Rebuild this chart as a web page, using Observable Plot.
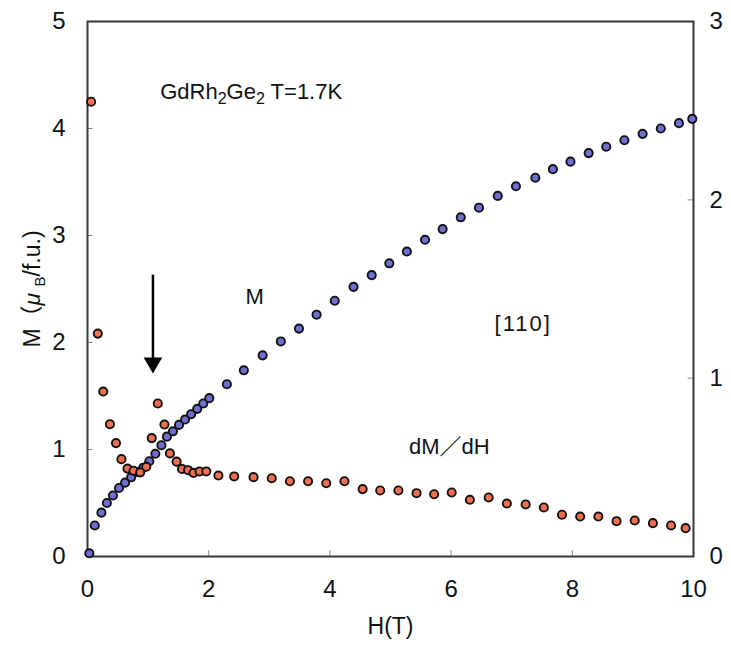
<!DOCTYPE html>
<html>
<head>
<meta charset="utf-8">
<script src="https://cdn.jsdelivr.net/npm/d3@7"></script>
<script src="https://cdn.jsdelivr.net/npm/@observablehq/plot@0.6"></script>
<style>
  html, body { margin: 0; padding: 0; background: #fff; }
  svg { display: block; }
</style>
</head>
<body>
<div id="chart"></div>
<script>
// Magnetization M (left axis, μB/f.u.)
const H_M = [0.03,0.12,0.23,0.32,0.42,0.52,0.62,0.72,0.82,0.92,1.02,1.12,1.22,1.31,1.41,1.51,1.61,1.71,1.81,1.91,2.01,2.30,2.58,2.89,3.19,3.49,3.78,4.08,4.39,4.69,4.98,5.27,5.57,5.86,6.16,6.46,6.77,7.07,7.39,7.68,7.97,8.27,8.56,8.86,9.16,9.46,9.76,9.98];
const M_vals = [0.03,0.29,0.41,0.50,0.57,0.64,0.69,0.74,0.79,0.83,0.89,0.96,1.04,1.12,1.17,1.23,1.28,1.33,1.38,1.43,1.48,1.61,1.74,1.88,2.01,2.13,2.26,2.39,2.52,2.63,2.74,2.85,2.96,3.06,3.17,3.26,3.37,3.46,3.54,3.62,3.69,3.77,3.83,3.89,3.95,4.00,4.05,4.09];
// dM/dH (right axis)
const H_D = [0.06,0.17,0.26,0.37,0.47,0.56,0.66,0.76,0.87,0.97,1.06,1.16,1.27,1.36,1.47,1.56,1.66,1.75,1.85,1.96,2.16,2.42,2.74,3.04,3.34,3.64,3.94,4.24,4.54,4.83,5.13,5.43,5.72,6.01,6.31,6.62,6.92,7.23,7.53,7.83,8.13,8.43,8.73,9.03,9.33,9.63,9.87];
const D_vals = [2.55,1.25,0.925,0.742,0.636,0.546,0.493,0.481,0.472,0.503,0.664,0.858,0.740,0.578,0.532,0.491,0.484,0.469,0.477,0.477,0.454,0.449,0.445,0.439,0.422,0.422,0.411,0.422,0.378,0.370,0.370,0.355,0.349,0.359,0.318,0.331,0.297,0.292,0.275,0.234,0.224,0.224,0.198,0.202,0.187,0.174,0.159];

const xTicks = [0, 2, 4, 6, 8, 10];
const yTicks = [0, 1, 2, 3, 4, 5];
const y2Ticks = [0, 1, 2, 3];
const Y2MAX = 3, YMAX = 5;
const k = YMAX / Y2MAX; // right-axis mapping onto left scale

const mData = H_M.map((h, i) => ({h, v: M_vals[i]}));
const dData = H_D.map((h, i) => ({h, v: D_vals[i]}));

// annotations
const arrowH = 1.08, arrowTop = 2.63, arrowTip = 1.81;
const titleNote = [{h: 1.2, v: 4.34, t: "GdRh2Ge2 T=1.7K"}];
const notes = [
  {h: 2.76, v: 2.43, t: "M"},
  {h: 7.19, v: 2.17, t: "[110]"},
  {h: 5.97, v: 1.02, t: "dM／dH"}
];

const FONT = "'Liberation Sans', Arial, 'Noto Sans CJK JP', sans-serif";
const frameColor = "#3b3539";

const chart = Plot.plot({
  width: 731,
  height: 646,
  marginLeft: 87,
  marginRight: 38,
  marginTop: 21,
  marginBottom: 90,
  style: {fontFamily: FONT, background: "#fff", color: "#111"},
  x: {domain: [0, 10]},
  y: {domain: [0, YMAX]},
  marks: [
    // inward ticks
    Plot.ruleX(xTicks.slice(1, -1), {y1: 0, y2: 0.055, stroke: "#888", strokeWidth: 1}),
    Plot.ruleY(yTicks.slice(1, -1), {x1: 0, x2: 0.09, stroke: "#888", strokeWidth: 1}),
    Plot.ruleY(y2Ticks.slice(1, -1).map(d => d * k), {x1: 9.91, x2: 10, stroke: "#888", strokeWidth: 1}),
    Plot.frame({stroke: frameColor, strokeWidth: 2}),
    Plot.axisX({ticks: xTicks, tickFormat: d => String(d), tickSize: 0, tickPadding: 23, fontSize: 24, label: null}),
    Plot.axisY({ticks: yTicks, tickFormat: d => String(d), tickSize: 0, tickPadding: 22, fontSize: 24, label: null}),
    Plot.axisY({anchor: "right", ticks: y2Ticks.map(d => d * k), tickFormat: d => String(Math.round(d / k)), tickSize: 0, tickPadding: 16, fontSize: 24, label: null}),
    Plot.text(["H(T)"], {frameAnchor: "bottom", dy: 77, fontSize: 23}),
    Plot.text(["M ( μB/f.u.)"], {frameAnchor: "left", textAnchor: "middle", dx: -55, rotate: -90, fontSize: 23}),
    // arrow
    Plot.ruleX([arrowH], {y1: arrowTop, y2: arrowTip, stroke: "#000", strokeWidth: 2.5}),
    Plot.dot([arrowH], {x: d => d, y: arrowTip, symbol: "triangle", r: 6.9, fill: "#000", stroke: "none", rotate: 180}),
    // data
    Plot.dot(mData, {x: "h", y: "v", r: 4.1, fill: "#6f6fd2", stroke: "#111", strokeWidth: 1.9}),
    Plot.dot(dData, {x: "h", y: d => d.v * k, r: 4.1, fill: "#f2704f", stroke: "#111", strokeWidth: 1.9}),
    Plot.text(titleNote, {x: "h", y: "v", text: "t", textAnchor: "start", fontSize: 22, fill: "#111"}),
    Plot.text(notes, {x: "h", y: "v", text: "t", textAnchor: "middle", fontSize: 22, fill: "#111"})
  ]
});

// subscripts and spacing details
chart.querySelectorAll("text").forEach(t => {
  const s = t.textContent;
  if (s === "GdRh2Ge2 T=1.7K") {
    t.innerHTML = 'GdRh<tspan dy="5" font-size="16">2</tspan><tspan dy="-5">Ge</tspan><tspan dy="5" font-size="16">2</tspan><tspan dy="-5"> T=1.7K</tspan>';
  } else if (s === "M ( μB/f.u.)") {
    t.innerHTML = 'M（<tspan font-style="italic">μ</tspan> <tspan dy="5" font-size="15">B</tspan><tspan dy="-5">/f.u.)</tspan>';
  } else if (s === "[110]") {
    t.setAttribute("letter-spacing", "2");
  }
});

document.getElementById("chart").appendChild(chart);
</script>
</body>
</html>
